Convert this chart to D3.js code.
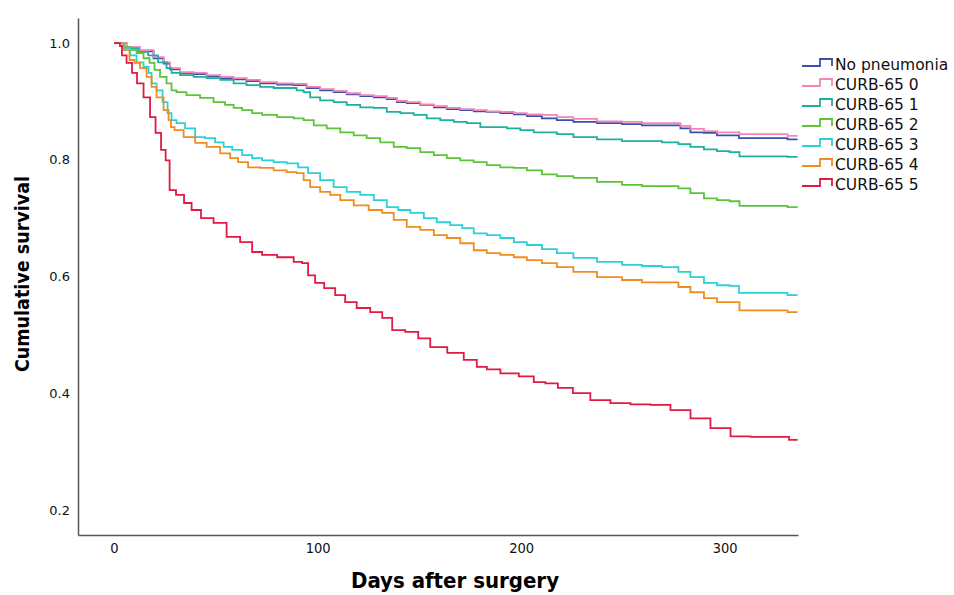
<!DOCTYPE html>
<html>
<head>
<meta charset="utf-8">
<script src="https://cdn.jsdelivr.net/npm/d3@7"></script>
<style>
  body { margin: 0; background: #fff; }
  svg { display: block; }
</style>
</head>
<body>
<script>
// legend / series names
const groups = ["No pneumonia", "CURB-65 0", "CURB-65 1", "CURB-65 2", "CURB-65 3", "CURB-65 4", "CURB-65 5"];
const colors = ["#3b4fae", "#f585b2", "#1fb09c", "#5cc43a", "#2ad2d8", "#ef8d1f", "#e01a42"];

// survival curves, [day, cumulative survival]
const noPneumonia = [[0,1],[2.9,1],[9.3,0.992],[16.2,0.986],[22.6,0.974],[26.1,0.965],[29,0.955],[35.9,0.948],[42.3,0.947],[48.7,0.943],[55.6,0.940],[61.9,0.938],[68.3,0.935],[75.2,0.931],[85.1,0.929],[91.4,0.928],[97.8,0.923],[104.7,0.919],[111.1,0.916],[117.5,0.912],[124.4,0.909],[130.8,0.907],[137.2,0.904],[140.6,0.899],[147,0.897],[153.9,0.894],[160.3,0.890],[166.7,0.887],[173.5,0.885],[179.9,0.883],[186.3,0.882],[193.2,0.880],[199.6,0.878],[206,0.875],[214.4,0.871],[220.7,0.868],[230.6,0.865],[243.9,0.863],[255.2,0.861],[263.5,0.859],[276.8,0.859],[279.7,0.854],[286.6,0.847],[293,0.846],[299.4,0.842],[305.3,0.842],[308.7,0.837],[325.9,0.837],[335.8,0.835]];
const curb0 = [[0,1],[2.9,1],[9.3,0.993],[16.2,0.988],[22.6,0.976],[26.1,0.967],[29,0.957],[35.9,0.950],[42.3,0.949],[48.7,0.945],[55.6,0.942],[61.9,0.940],[68.3,0.937],[75.2,0.933],[85.1,0.931],[91.4,0.930],[97.8,0.925],[104.7,0.921],[111.1,0.918],[117.5,0.914],[124.4,0.911],[130.8,0.909],[137.2,0.906],[140.6,0.901],[147,0.899],[153.9,0.895],[160.3,0.892],[166.7,0.889],[173.5,0.887],[179.9,0.885],[186.3,0.883],[193.2,0.882],[199.6,0.880],[206,0.878],[214.4,0.877],[220.7,0.873],[230.6,0.870],[243.9,0.866],[255.2,0.865],[263.5,0.863],[276.8,0.863],[279.7,0.858],[286.6,0.853],[293,0.849],[299.4,0.847],[305.3,0.847],[309.2,0.844],[325.9,0.844],[335.8,0.841]];
const curb1 = [[0,1],[2.9,1],[6.4,0.993],[9.3,0.991],[14.3,0.985],[19.2,0.979],[24.1,0.967],[27.5,0.957],[29,0.949],[35.9,0.945],[42.3,0.942],[48.7,0.940],[55.6,0.937],[61.9,0.931],[68.3,0.928],[75.2,0.925],[81.6,0.923],[88,0.923],[91.4,0.919],[94.9,0.916],[97.8,0.907],[104.7,0.902],[111.1,0.899],[117.5,0.894],[124.4,0.890],[130.8,0.889],[137.2,0.882],[144.1,0.880],[150.4,0.877],[156.8,0.871],[163.7,0.868],[170.1,0.865],[176.5,0.863],[183.4,0.856],[189.8,0.856],[196.2,0.854],[203,0.851],[209.4,0.847],[214.4,0.847],[220.7,0.844],[230.6,0.839],[243.9,0.835],[255.2,0.832],[263.5,0.832],[274.8,0.830],[279.7,0.827],[286.6,0.822],[293,0.818],[299.4,0.815],[305.3,0.813],[309.2,0.806],[325.9,0.806],[335.8,0.805]];
const curb2 = [[0,1],[2.9,1],[6.4,0.993],[9.3,0.988],[12.8,0.983],[16.2,0.974],[18.7,0.966],[21.1,0.954],[24.1,0.942],[27.5,0.931],[29,0.919],[32.4,0.916],[38.8,0.911],[45.7,0.906],[52.1,0.899],[57,0.894],[60.5,0.889],[65.4,0.885],[70.3,0.880],[75.2,0.877],[85.1,0.873],[91.4,0.871],[94.9,0.868],[101.3,0.859],[107.7,0.854],[114.6,0.847],[120.9,0.842],[127.3,0.837],[134.2,0.830],[140.6,0.822],[147,0.820],[153.9,0.813],[160.3,0.808],[166.7,0.803],[173.5,0.799],[179.9,0.796],[186.3,0.791],[193.2,0.787],[199.6,0.786],[206,0.782],[214.4,0.775],[220.7,0.772],[230.6,0.769],[243.9,0.762],[255.2,0.757],[263.5,0.755],[274.8,0.755],[279.7,0.751],[286.6,0.743],[293,0.734],[299.4,0.731],[305.3,0.729],[309.2,0.721],[325.9,0.721],[335.8,0.719]];
const curb3 = [[0,1],[2.9,1],[6.4,0.991],[9.3,0.979],[12.8,0.967],[16.2,0.959],[17.7,0.949],[19.2,0.931],[22.6,0.919],[25.1,0.899],[27.5,0.880],[29,0.868],[32.4,0.863],[37.4,0.854],[42.3,0.839],[47.2,0.837],[52.1,0.830],[55.6,0.822],[60.5,0.817],[65.4,0.808],[70.3,0.803],[75.2,0.799],[81.6,0.796],[88,0.794],[92.9,0.787],[97.8,0.777],[104.7,0.765],[111.1,0.753],[117.5,0.745],[124.4,0.740],[130.8,0.731],[137.2,0.719],[142.1,0.714],[149,0.709],[155.4,0.700],[161.7,0.693],[168.6,0.688],[173.5,0.683],[179.9,0.674],[186.3,0.671],[193.2,0.666],[199.6,0.659],[206,0.654],[214.4,0.647],[220.7,0.640],[230.6,0.632],[243.9,0.625],[255.2,0.620],[263.5,0.618],[274.8,0.616],[279.7,0.608],[286.6,0.599],[293,0.589],[299.4,0.585],[305.3,0.584],[308.7,0.572],[325.9,0.572],[335.8,0.568]];
const curb4 = [[0,1],[2.9,1],[6.4,0.988],[8.8,0.971],[11.3,0.966],[14.3,0.957],[17.7,0.942],[19.2,0.925],[22.6,0.907],[26.1,0.885],[27.5,0.868],[28.5,0.856],[31,0.851],[37.4,0.839],[42.3,0.829],[48.7,0.822],[55.6,0.811],[58.5,0.803],[63.4,0.796],[68.3,0.787],[75.2,0.786],[81.6,0.782],[88,0.779],[91.4,0.777],[94.9,0.765],[97.8,0.753],[104.7,0.745],[107.7,0.740],[114.6,0.731],[120.9,0.722],[129.3,0.714],[134.2,0.709],[140.6,0.697],[147,0.685],[153.9,0.680],[160.3,0.671],[166.7,0.666],[173.5,0.657],[179.9,0.645],[186.3,0.640],[193.2,0.637],[199.6,0.633],[206,0.628],[214.4,0.623],[220.7,0.616],[230.6,0.608],[243.9,0.599],[255.2,0.594],[263.5,0.590],[274.8,0.590],[279.7,0.582],[286.6,0.573],[293,0.563],[299.4,0.556],[305.3,0.556],[309.2,0.542],[325.9,0.542],[335.8,0.539]];
const curb5 = [[0,1],[2.5,1],[3.4,0.995],[4.4,0.979],[7.9,0.966],[9.8,0.949],[12.8,0.931],[16.2,0.907],[19.2,0.873],[21.6,0.846],[24.6,0.817],[26.1,0.799],[28.5,0.748],[32.4,0.740],[36.4,0.726],[39.8,0.714],[45.7,0.700],[52.1,0.692],[58.5,0.668],[65.4,0.659],[70.3,0.642],[75.2,0.637],[85.1,0.633],[91.4,0.625],[93.4,0.623],[97.3,0.602],[100.3,0.589],[106.2,0.580],[111.1,0.568],[116,0.556],[122.4,0.546],[129.3,0.539],[134.2,0.529],[139.1,0.508],[147,0.505],[151.9,0.494],[158.8,0.479],[168.6,0.469],[175,0.457],[181.4,0.445],[184.9,0.441],[194.7,0.434],[203,0.429],[209.4,0.419],[214.4,0.417],[221.7,0.409],[229.1,0.400],[238.9,0.388],[248.8,0.383],[258.6,0.381],[268.4,0.380],[278.3,0.371],[288.1,0.357],[297.9,0.340],[307.8,0.326],[317.6,0.325],[327.4,0.325],[335.8,0.320]];

const seriesData = [noPneumonia, curb0, curb1, curb2, curb3, curb4, curb5];

// axis ticks
const xTicks = [0, 100, 200, 300];
const yTicks = [0.2, 0.4, 0.6, 0.8, 1.0];

const width = 954;
const height = 595;

const svg = d3.select("body")
        .append("svg")
        .attr("width", width)
        .attr("height", height)

const x = d3.scaleLinear()
       .domain([-17.7, 336])
       .range([78, 798]);

const y = d3.scaleLinear()
       .domain([0.157, 1.043])
       .range([535, 18]);

const axisColor = "#555";

// y axis
const yAxis = svg.append("g")
        .attr("transform", `translate(${x.range()[0]},0)`)
        .call(d3.axisLeft(y).tickValues(yTicks).tickSize(0).tickPadding(8).tickFormat(d3.format(".1f")))
yAxis.select(".domain").attr("stroke", axisColor).attr("stroke-width", 1.5)
yAxis.selectAll("text")
        .attr("font-family", "'DejaVu Sans', sans-serif")
        .attr("font-size", 13)
        .attr("fill", "#111")

// x axis
const xAxis = svg.append("g")
        .attr("transform", `translate(0,${y.range()[0]})`)
        .call(d3.axisBottom(x).tickValues(xTicks).tickSize(0).tickPadding(8).tickFormat(d3.format("d")))
xAxis.select(".domain").attr("stroke", axisColor).attr("stroke-width", 1.5)
xAxis.selectAll("text")
        .attr("font-family", "'DejaVu Sans Condensed', 'DejaVu Sans', sans-serif")
        .attr("font-size", 14.5)
        .attr("fill", "#111")

// axis titles
svg.append("text")
        .attr("x", 455)
        .attr("y", 588)
        .attr("text-anchor", "middle")
        .attr("font-family", "'DejaVu Sans Condensed', 'DejaVu Sans', sans-serif")
        .attr("font-weight", "bold")
        .attr("font-size", 22)
        .text("Days after surgery")

svg.append("text")
        .attr("transform", "translate(29,274) rotate(-90)")
        .attr("text-anchor", "middle")
        .attr("font-family", "'DejaVu Sans Condensed', 'DejaVu Sans', sans-serif")
        .attr("font-weight", "bold")
        .attr("font-size", 19.5)
        .text("Cumulative survival")

// the curves
const line = d3.line()
        .x(d => x(d[0]))
        .y(d => y(d[1]))
        .curve(d3.curveStep)

svg.append("g")
        .selectAll("path")
        .data(seriesData)
        .enter()
        .append("path")
        .attr("d", line)
        .attr("fill", "none")
        .attr("stroke", (d, i) => colors[i])
        .attr("stroke-width", 1.8)

// legend
const legend = svg.append("g")
        .attr("transform", "translate(802,64)")

const rows = legend.selectAll("g")
        .data(groups)
        .enter()
        .append("g")
        .attr("transform", (d, i) => `translate(0,${i * 20})`)

rows.append("path")
        .attr("d", "M0,2H18V-5H30V2")
        .attr("fill", "none")
        .attr("stroke", (d, i) => colors[i])
        .attr("stroke-width", 1.8)

rows.append("text")
        .attr("x", 33)
        .attr("y", 0)
        .attr("dy", "0.36em")
        .attr("font-family", "'DejaVu Sans', sans-serif")
        .attr("font-size", 15.5)
        .attr("fill", "#111")
        .text(d => d)
</script>
</body>
</html>
